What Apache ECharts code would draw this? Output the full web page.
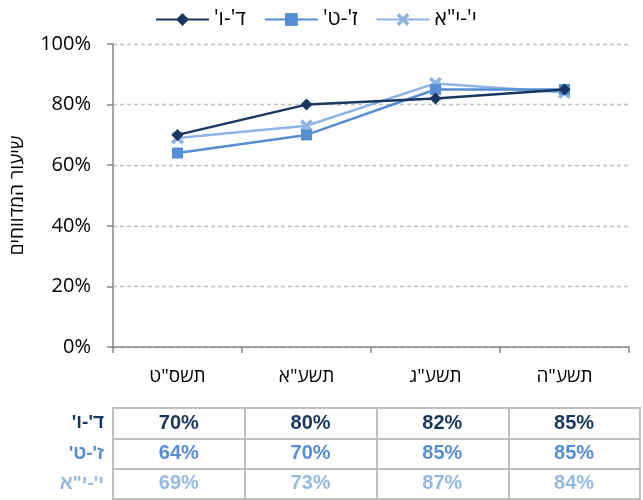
<!DOCTYPE html>
<html>
<head>
<meta charset="utf-8">
<script src="https://cdn.jsdelivr.net/npm/echarts@6/dist/echarts.min.js"></script>
<style>
html,body{margin:0;padding:0;background:#fff;}
#c{width:643px;height:500px;}
</style>
</head>
<body>
<div id="c" dir="rtl"></div>
<script>
const categories = ['תשס"ט', 'תשע"א', 'תשע"ג', 'תשע"ה'];
const seriesNames = ["ד'-ו'", "ז'-ט'", "י'-י\"א"];
const valuesA = [70, 80, 82, 85];
const valuesB = [64, 70, 85, 85];
const valuesC = [69, 73, 87, 84];
const yTicks = [0, 20, 40, 60, 80, 100];
const yAxisTitle = 'שיעור המדווחים';

const allValues = [valuesA, valuesB, valuesC];
const colors = ['#17375E', '#558ED5', '#8EB4E3'];
const tableColors = ['#17375E', '#558ED5', '#95B9E3'];
const symbols = ['diamond', 'rect', 'path://M0,2 L2,0 L5,3 L8,0 L10,2 L7,5 L10,8 L8,10 L5,7 L2,10 L0,8 L3,5 Z'];
const symbolSizes = [12, 11, 13];
const font = '"Open Sans", "DejaVu Sans", sans-serif';
const boldFont = '"Liberation Sans", Arial, sans-serif';

const chart = echarts.init(document.getElementById('c'));

const lineSeries = seriesNames.map((n, i) => ({
  name: n,
  type: 'line',
  xAxisIndex: 0,
  yAxisIndex: 0,
  data: allValues[i],
  symbol: symbols[i],
  symbolSize: symbolSizes[i],
  showSymbol: true,
  lineStyle: { color: colors[i], width: 2.5 },
  itemStyle: { color: colors[i] },
  z: 10 - i
}));

const tableSeries = seriesNames.map((n, i) => ({
  name: 'tbl' + i,
  type: 'scatter',
  xAxisIndex: 1,
  yAxisIndex: 1,
  silent: true,
  symbolSize: 1,
  itemStyle: { color: 'rgba(0,0,0,0)', opacity: 1 },
  data: categories.map((c, j) => [c, n, allValues[i][j]]),
  label: {
    show: true,
    position: 'inside',
    formatter: p => p.data[2] + '%',
    color: tableColors[i],
    fontWeight: 'bold',
    fontSize: 20,
    fontFamily: boldFont
  }
}));

chart.setOption({
  animation: false,
  backgroundColor: '#fff',
  color: colors,
  legend: {
    data: seriesNames,
    left: 150,
    top: 4,
    itemWidth: 53,
    itemHeight: 16,
    itemGap: 18,
    textStyle: { fontSize: 21, color: '#000', fontFamily: font }
  },
  grid: [
    { left: 109, right: 14, top: 44, bottom: 153, containLabel: false },
    { left: 113, right: 3, top: 408, height: 91, show: true, borderColor: '#BFBFBF', borderWidth: 2, backgroundColor: 'transparent' }
  ],
  xAxis: [
    {
      type: 'category',
      gridIndex: 0,
      data: categories,
      boundaryGap: true,
      axisLine: { show: true, lineStyle: { color: '#868686', width: 1.5 } },
      axisTick: { show: true, length: 6, lineStyle: { color: '#868686', width: 1.5 } },
      axisLabel: { fontSize: 19, color: '#000', margin: 20, fontFamily: font },
      splitLine: { show: false }
    },
    {
      type: 'category',
      gridIndex: 1,
      data: categories,
      boundaryGap: true,
      axisLine: { show: false },
      axisTick: { show: false },
      axisLabel: { show: false },
      splitLine: { show: true, lineStyle: { color: '#BFBFBF', width: 2 } }
    }
  ],
  yAxis: [
    {
      type: 'value',
      gridIndex: 0,
      min: yTicks[0],
      max: yTicks[yTicks.length - 1],
      interval: yTicks[1] - yTicks[0],
      name: yAxisTitle,
      nameLocation: 'middle',
      nameGap: 86,
      nameRotate: 90,
      nameTextStyle: { fontSize: 19, color: '#000', fontFamily: font },
      axisLine: { show: true, lineStyle: { color: '#868686', width: 1.5 } },
      axisTick: { show: true, length: 6, lineStyle: { color: '#868686', width: 1.5 } },
      axisLabel: { fontSize: 20, color: '#000', margin: 22, formatter: '{value}%', fontFamily: font },
      splitLine: { show: true, lineStyle: { color: '#BFBFBF', width: 1.3, type: [4, 3] } }
    },
    {
      type: 'category',
      gridIndex: 1,
      data: seriesNames,
      inverse: true,
      axisLine: { show: false },
      axisTick: { show: false },
      axisLabel: {
        show: true,
        margin: 9,
        fontSize: 19,
        fontWeight: 'bold',
        fontFamily: boldFont,
        color: (v, idx) => tableColors[seriesNames.indexOf(v)]
      },
      splitLine: { show: true, lineStyle: { color: '#BFBFBF', width: 2 } }
    }
  ],
  series: lineSeries.concat(tableSeries)
});
</script>
</body>
</html>
